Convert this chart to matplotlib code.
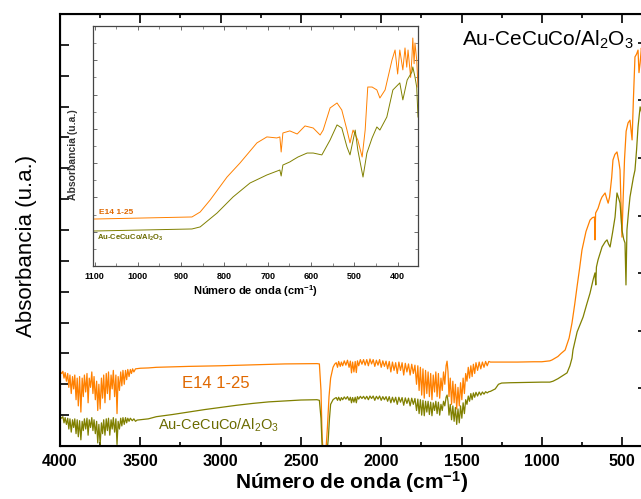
import numpy as np
import matplotlib
matplotlib.use("Agg")
import matplotlib.pyplot as plt
from matplotlib.ticker import MultipleLocator, NullFormatter

plt.rcParams["font.family"] = ["Liberation Sans", "DejaVu Sans"]
plt.rcParams["mathtext.default"] = "regular"

ORANGE = "#FF8000"
OLIVE = "#808000"

# ---- main spectrum, E14 1-25 (wavenumber cm-1, absorbance a.u.) ----
e14_main = [
    (4000, 2.40), (3990, 2.35), (3982, 2.42), (3975, 2.20), (3968, 2.38), (3960, 2.10),
    (3952, 2.35), (3945, 1.90), (3938, 2.30), (3930, 1.70), (3922, 2.25), (3915, 1.85),
    (3908, 2.30), (3900, 1.50), (3893, 2.20), (3886, 1.30), (3878, 2.25), (3870, 1.10),
    (3862, 2.20), (3855, 1.60), (3848, 2.30), (3840, 1.75), (3832, 2.35), (3825, 1.40),
    (3818, 2.20), (3810, 1.90), (3802, 2.40), (3795, 1.70), (3788, 2.25), (3780, 1.50),
    (3772, 2.10), (3765, 1.15), (3758, 2.00), (3750, 1.20), (3742, 2.20), (3735, 1.55),
    (3728, 2.30), (3720, 1.40), (3712, 2.35), (3705, 1.70), (3698, 2.40), (3690, 1.50),
    (3682, 2.30), (3675, 1.85), (3668, 2.45), (3660, 1.60), (3652, 2.30), (3645, 1.05),
    (3638, 2.25), (3630, 1.80), (3622, 2.40), (3615, 1.95), (3608, 2.45), (3600, 2.00),
    (3592, 2.45), (3585, 2.15), (3578, 2.48), (3570, 2.25), (3562, 2.48), (3555, 2.35),
    (3548, 2.50), (3540, 2.40), (3530, 2.50), (3500, 2.52), (3450, 2.53), (3400, 2.55),
    (3200, 2.58), (3000, 2.60), (2800, 2.63), (2600, 2.66), (2400, 2.67), (2385, 2.66),
    (2375, 1.80), (2368, 0.30), (2360, -0.30), (2345, -0.20), (2335, 0.60), (2325, 1.60),
    (2315, 2.20), (2300, 2.55),
    (2290, 2.65), (2280, 2.70), (2272, 2.55), (2265, 2.74), (2255, 2.58), (2248, 2.72),
    (2240, 2.60), (2230, 2.76), (2220, 2.62), (2210, 2.78), (2200, 2.55), (2192, 2.75),
    (2185, 2.37), (2178, 2.72), (2170, 2.40), (2162, 2.74), (2155, 2.38), (2148, 2.76),
    (2140, 2.60), (2130, 2.80), (2120, 2.65), (2110, 2.80), (2100, 2.62), (2090, 2.80),
    (2080, 2.60), (2070, 2.82), (2060, 2.66), (2050, 2.80), (2040, 2.58), (2030, 2.78),
    (2020, 2.62), (2010, 2.80), (2000, 2.55), (1990, 2.76), (1980, 2.58), (1970, 2.75),
    (1960, 2.50), (1950, 2.74), (1940, 2.40), (1930, 2.72), (1920, 2.45), (1910, 2.70),
    (1900, 2.35), (1890, 2.72), (1880, 2.45), (1870, 2.70), (1860, 2.30), (1850, 2.68),
    (1840, 2.40), (1830, 2.66), (1820, 2.30), (1810, 2.65), (1800, 2.35), (1790, 2.62),
    (1780, 2.00), (1772, 2.60), (1764, 1.80), (1756, 2.55), (1748, 1.65), (1740, 2.50),
    (1732, 1.55), (1724, 2.45), (1716, 1.70), (1708, 2.40), (1700, 1.60), (1692, 2.35),
    (1684, 1.50), (1676, 2.30), (1668, 1.75), (1660, 2.40), (1652, 1.60), (1644, 2.35),
    (1636, 1.55), (1628, 2.20), (1620, 1.80), (1612, 2.40), (1604, 2.00), (1596, 2.60),
    (1590, 2.75), (1584, 2.40), (1578, 1.60), (1570, 2.20), (1562, 1.35), (1554, 2.10),
    (1546, 1.40), (1538, 2.00), (1530, 1.20), (1522, 1.90), (1514, 1.30), (1506, 2.05),
    (1498, 1.50), (1490, 2.20), (1482, 1.70), (1474, 2.35), (1466, 2.10), (1458, 2.55),
    (1450, 2.20), (1442, 2.60), (1434, 2.25), (1426, 2.65), (1418, 2.35), (1410, 2.70),
    (1400, 2.45), (1390, 2.72), (1380, 2.50), (1370, 2.72), (1360, 2.55), (1350, 2.74),
    (1340, 2.60), (1330, 2.74), (1320, 2.72), (1250, 2.72), (1150, 2.72), (1050, 2.73),
    (1000, 2.73), (950, 2.76), (936, 2.79), (900, 2.90), (880, 3.00), (855, 3.11),
    (830, 3.50), (812, 3.99), (795, 4.60), (781, 5.15), (765, 5.75), (750, 6.35),
    (725, 6.95), (700, 7.32), (685, 7.40), (672, 7.42), (669, 6.68), (665, 7.55),
    (650, 7.70), (635, 7.95), (625, 8.07), (606, 8.20), (595, 8.00), (587, 7.87),
    (578, 8.07), (565, 8.70), (557, 9.27), (545, 9.45), (532, 9.53), (520, 9.20),
    (513, 8.94), (505, 7.50), (501, 6.77), (495, 7.80), (485, 9.30), (475, 10.20),
    (463, 10.47), (451, 10.56), (438, 9.92), (430, 11.20), (420, 12.61), (410, 12.70),
    (401, 12.83), (395, 12.10), (388, 12.41), (380, 12.90), (372, 12.50),
]

# ---- main spectrum, Au-CeCuCo/Al2O3 ----
aucecuco_main = [
    (4000, 0.94), (3990, 0.90), (3982, 0.95), (3975, 0.75), (3968, 0.92), (3960, 0.70),
    (3952, 0.90), (3945, 0.55), (3938, 0.88), (3930, 0.45), (3922, 0.85), (3915, 0.60),
    (3908, 0.88), (3900, 0.40), (3893, 0.85), (3886, 0.30), (3878, 0.82), (3870, 0.20),
    (3862, 0.80), (3855, 0.50), (3848, 0.88), (3840, 0.55), (3832, 0.90), (3825, 0.35),
    (3818, 0.85), (3810, 0.60), (3802, 0.92), (3795, 0.50), (3788, 0.85), (3780, 0.40),
    (3772, 0.80), (3765, 0.10), (3758, 0.70), (3750, 0.05), (3742, 0.75), (3735, 0.40),
    (3728, 0.85), (3720, 0.35), (3712, 0.88), (3705, 0.50), (3698, 0.90), (3690, 0.35),
    (3682, 0.85), (3675, 0.55), (3668, 0.92), (3660, 0.45), (3652, 0.88), (3645, 0.05),
    (3638, 0.80), (3630, 0.55), (3622, 0.90), (3615, 0.65), (3608, 0.92), (3600, 0.70),
    (3592, 0.92), (3585, 0.75), (3578, 0.90), (3570, 0.80), (3562, 0.90), (3550, 0.82),
    (3540, 0.88), (3530, 0.80), (3520, 0.84), (3450, 0.88), (3400, 0.95), (3300, 1.02),
    (3200, 1.10), (3100, 1.18), (3000, 1.25), (2900, 1.32), (2800, 1.38), (2700, 1.43),
    (2600, 1.46), (2500, 1.49), (2400, 1.50), (2385, 1.48), (2375, 0.90), (2368, 0.00),
    (2360, -0.30), (2340, -0.30), (2330, 0.20), (2322, 0.90), (2315, 1.35), (2300, 1.50),
    (2290, 1.54), (2280, 1.57), (2272, 1.48), (2265, 1.58), (2255, 1.47), (2248, 1.57),
    (2240, 1.50), (2230, 1.59), (2220, 1.52), (2210, 1.60), (2200, 1.48), (2192, 1.58),
    (2185, 1.40), (2178, 1.57), (2170, 1.42), (2162, 1.58), (2155, 1.40), (2148, 1.60),
    (2140, 1.52), (2130, 1.61), (2120, 1.54), (2110, 1.61), (2100, 1.52), (2090, 1.61),
    (2080, 1.50), (2070, 1.62), (2060, 1.54), (2050, 1.62), (2040, 1.48), (2030, 1.61),
    (2020, 1.52), (2010, 1.62), (2000, 1.48), (1990, 1.60), (1980, 1.50), (1970, 1.60),
    (1960, 1.45), (1950, 1.60), (1940, 1.40), (1930, 1.58), (1920, 1.42), (1910, 1.58),
    (1900, 1.35), (1890, 1.58), (1880, 1.42), (1870, 1.57), (1860, 1.32), (1850, 1.56),
    (1840, 1.38), (1830, 1.55), (1820, 1.30), (1810, 1.55), (1800, 1.35), (1790, 1.54),
    (1780, 1.15), (1772, 1.52), (1764, 1.05), (1756, 1.50), (1748, 1.00), (1740, 1.48),
    (1732, 0.98), (1724, 1.45), (1716, 1.10), (1708, 1.45), (1700, 1.02), (1692, 1.42),
    (1684, 0.98), (1676, 1.40), (1668, 1.15), (1660, 1.45), (1652, 1.05), (1644, 1.42),
    (1636, 1.00), (1628, 1.35), (1620, 1.15), (1612, 1.45), (1604, 1.30), (1596, 1.58),
    (1590, 1.65), (1584, 1.45), (1578, 1.00), (1570, 1.35), (1562, 0.85), (1554, 1.30),
    (1546, 0.80), (1538, 1.25), (1530, 0.70), (1522, 1.20), (1514, 0.75), (1506, 1.30),
    (1498, 0.90), (1490, 1.40), (1482, 1.05), (1474, 1.50), (1466, 1.35), (1458, 1.62),
    (1450, 1.45), (1442, 1.70), (1434, 1.50), (1426, 1.72), (1418, 1.58), (1410, 1.74),
    (1400, 1.62), (1390, 1.75), (1380, 1.65), (1370, 1.75), (1360, 1.68), (1350, 1.76),
    (1340, 1.72), (1330, 1.76), (1320, 1.77), (1290, 1.85), (1270, 2.00), (1250, 2.04),
    (1200, 2.05), (1100, 2.06), (1000, 2.07), (950, 2.07), (930, 2.10), (900, 2.18),
    (870, 2.28), (843, 2.37), (825, 2.60), (812, 2.85), (806, 3.11), (780, 3.70),
    (743, 4.18), (720, 4.60), (700, 4.95), (680, 5.40), (669, 5.61), (664, 5.22),
    (660, 5.80), (650, 6.03), (625, 6.45), (605, 6.62), (594, 6.68), (585, 6.55),
    (575, 6.45), (560, 6.90), (544, 7.42), (532, 8.20), (520, 8.00), (513, 7.87),
    (501, 7.00), (490, 6.70), (482, 6.58), (476, 5.22), (470, 7.00), (460, 7.60),
    (451, 8.07), (440, 8.40), (430, 8.70), (420, 8.94), (410, 9.60), (401, 10.34),
    (388, 10.99), (378, 10.80), (370, 11.20),
]

# ---- inset (1100-350 cm-1) ----
e14_inset = [
    (1101, 2.74), (875, 2.86), (856, 3.15), (833, 3.85), (794, 5.19), (764, 6.01),
    (725, 7.18), (702, 7.53), (679, 7.47), (672, 7.53), (669, 6.65), (665, 7.76),
    (649, 7.88), (632, 7.70), (614, 8.17), (595, 8.05), (579, 7.64), (572, 7.93),
    (556, 9.22), (540, 9.51), (529, 9.10), (517, 7.93), (510, 7.18), (503, 7.93),
    (492, 7.35), (482, 6.36), (475, 7.93), (469, 10.44), (459, 10.44), (448, 10.27),
    (441, 9.80), (429, 10.27), (413, 12.02), (406, 12.60), (400, 11.20), (395, 12.60),
    (388, 11.44), (383, 12.72), (379, 11.60), (376, 12.60), (370, 11.00), (367, 12.19),
    (365, 13.30), (362, 11.80), (360, 13.01), (356, 12.02), (353, 10.44),
]
aucecuco_inset = [
    (1103, 2.04), (875, 2.16), (856, 2.28), (817, 3.09), (780, 4.03), (741, 4.84),
    (702, 5.31), (672, 5.60), (669, 5.25), (665, 5.89), (649, 6.07), (642, 6.18),
    (630, 6.36), (609, 6.59), (595, 6.59), (575, 6.48), (556, 7.35), (540, 8.23),
    (529, 8.05), (517, 6.94), (510, 6.48), (498, 7.93), (492, 6.77), (480, 5.19),
    (471, 6.59), (459, 7.47), (448, 8.11), (441, 7.93), (425, 8.69), (411, 10.27),
    (395, 10.68), (388, 9.69), (378, 10.85), (367, 11.32), (365, 11.61), (360, 11.03),
    (356, 10.44), (353, 8.69),
]

label_e14 = "E14 1-25"
label_au = "Au-CeCuCo/Al$_2$O$_3$"


def xy(pairs):
    a = np.array(pairs, dtype=float)
    return a[:, 0], a[:, 1]


fig = plt.figure(figsize=(6.41, 4.99), dpi=100)

# main axes (right spine sits just outside the picture, as in the original)
ax = fig.add_axes([60 / 641, 1 - 446 / 499, 583 / 641, 432 / 499])
x, y = xy(e14_main)
ax.plot(x, y, color=ORANGE, lw=0.9)
x, y = xy(aucecuco_main)
ax.plot(x, y, color=OLIVE, lw=0.9)
ax.set_xlim(4000, 370)
ax.set_ylim(0, 14)
ax.xaxis.set_major_locator(MultipleLocator(500))
ax.xaxis.set_minor_locator(MultipleLocator(250))
ax.yaxis.set_major_locator(MultipleLocator(1))
ax.yaxis.set_major_formatter(NullFormatter())
ax.tick_params(which="major", direction="in", top=True, length=6.5, width=1.2,
               labelsize=11.5, pad=6)
ax.tick_params(which="minor", direction="in", top=True, length=3, width=1.2)
for lab in ax.get_xticklabels():
    lab.set_fontweight("bold")
for sp in ax.spines.values():
    sp.set_linewidth(1.5)
ax.set_xlabel("Número de onda (cm$^{-1}$)", fontsize=15, fontweight="bold", labelpad=0)
ax.set_ylabel("Absorbancia (u.a.)", fontsize=16)
ax.yaxis.set_label_coords(-0.04, 0.463)

# right-hand ticks use their own spacing
axr = ax.twinx()
axr.set_ylim(0, 7.5)
axr.yaxis.set_major_locator(MultipleLocator(1))
axr.yaxis.set_major_formatter(NullFormatter())
axr.tick_params(direction="in", length=3.5, width=1.2)

ax.text(961, 13.16, label_au, fontsize=15, ha="center", va="center")
ax.text(3029, 2.04, label_e14, fontsize=12, color="#E06800", ha="center", va="center")
ax.text(3016, 0.68, label_au, fontsize=10.5, color="#6B6B00", ha="center", va="center")

# inset
axi = fig.add_axes([93 / 641, 1 - 266 / 499, 325 / 641, 240 / 499])
x, y = xy(e14_inset)
axi.plot(x, y, color=ORANGE, lw=0.7)
x, y = xy(aucecuco_inset)
axi.plot(x, y, color=OLIVE, lw=0.7)
axi.set_xlim(1103.5, 353)
axi.set_ylim(0, 14)
axi.xaxis.set_major_locator(MultipleLocator(100))
axi.xaxis.set_minor_locator(MultipleLocator(50))
axi.yaxis.set_major_locator(MultipleLocator(2))
axi.yaxis.set_minor_locator(MultipleLocator(1))
axi.yaxis.set_major_formatter(NullFormatter())
axi.tick_params(which="major", direction="in", top=True, right=True, length=3,
                width=0.6, labelsize=6.5, pad=4, color="#555555")
axi.tick_params(which="minor", direction="in", top=True, right=True, length=2,
                width=0.6, color="#777777")
for lab in axi.get_xticklabels():
    lab.set_fontweight("bold")
for sp in axi.spines.values():
    sp.set_linewidth(0.9)
    sp.set_color("#444444")
axi.set_xlabel("Número de onda (cm$^{-1}$)", fontsize=8, fontweight="bold", labelpad=2)
fig.text(73 / 641, 1 - 155 / 499, "Absorbancia (u.a.)", fontsize=7.5, fontweight="bold",
         rotation=90, ha="center", va="center", color="#333333")
axi.text(1090, 3.15, label_e14, fontsize=6, fontweight="bold", color="#E06800",
         ha="left", va="center")
axi.text(1095, 1.63, label_au, fontsize=5.5, fontweight="bold", color="#6B6B00",
         ha="left", va="center")

fig.savefig("out.png", dpi=100)
